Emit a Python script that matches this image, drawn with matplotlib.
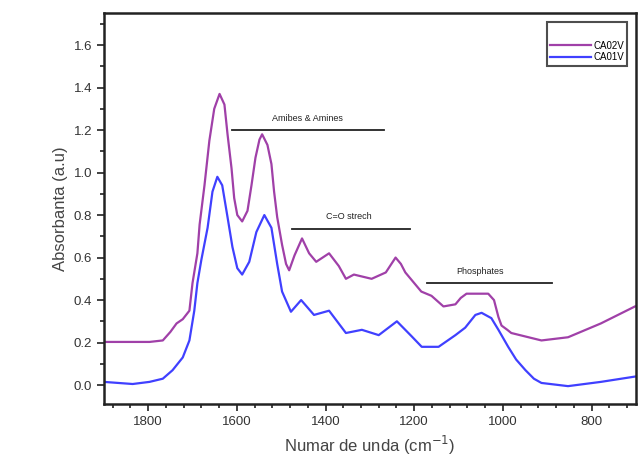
import matplotlib.pyplot as plt
from matplotlib.ticker import MultipleLocator

plt.rcParams['font.family'] = ['Liberation Sans', 'DejaVu Sans']

# CA02V (purple)
x_ca02 = [1900, 1797, 1767, 1750, 1736, 1722, 1707, 1700, 1689, 1684, 1673, 1662, 1651,
          1639, 1628, 1621, 1612, 1606, 1599, 1588, 1576, 1567, 1558, 1549, 1543, 1531,
          1522, 1516, 1509, 1498, 1489, 1482, 1470, 1453, 1437, 1421, 1392, 1370, 1354,
          1336, 1296, 1264, 1242, 1230, 1220, 1200, 1184, 1161, 1134, 1107, 1095, 1082,
          1033, 1020, 1010, 1003, 990, 981, 913, 853, 779, 702]
y_ca02 = [0.203, 0.203, 0.21, 0.25, 0.29, 0.31, 0.35, 0.48, 0.62, 0.755, 0.94, 1.15, 1.30,
          1.37, 1.32, 1.18, 1.02, 0.88, 0.80, 0.77, 0.82, 0.94, 1.07, 1.155, 1.18, 1.13,
          1.04, 0.91, 0.79, 0.66, 0.57, 0.54, 0.61, 0.69, 0.62, 0.58, 0.62, 0.56, 0.50,
          0.52, 0.50, 0.53, 0.60, 0.57, 0.53, 0.48, 0.44, 0.42, 0.37, 0.38, 0.41, 0.43,
          0.43, 0.40, 0.32, 0.28, 0.26, 0.245, 0.21, 0.225, 0.29, 0.37]

# CA01V (blue)
x_ca01 = [1900, 1835, 1797, 1767, 1745, 1722, 1707, 1696, 1689, 1680, 1666, 1655, 1644,
          1633, 1621, 1610, 1599, 1588, 1572, 1556, 1538, 1522, 1509, 1498, 1478, 1455,
          1426, 1392, 1354, 1318, 1280, 1239, 1206, 1183, 1145, 1107, 1085, 1062, 1048,
          1026, 1010, 988, 970, 949, 930, 913, 853, 779, 702]
y_ca01 = [0.015, 0.005, 0.015, 0.03, 0.07, 0.13, 0.21, 0.35, 0.48, 0.59, 0.74, 0.91, 0.98,
          0.94, 0.79, 0.65, 0.55, 0.52, 0.58, 0.72, 0.80, 0.74, 0.57, 0.44, 0.345, 0.40,
          0.33, 0.35, 0.245, 0.26, 0.235, 0.30, 0.23, 0.18, 0.18, 0.235, 0.27, 0.33, 0.34,
          0.315, 0.26, 0.18, 0.12, 0.07, 0.03, 0.01, -0.005, 0.015, 0.04]

# band annotations: label, x start, x end, line y, text x, text y
bands = [
    ('Amibes & Amines', 1610, 1269, 1.20, 1440, 1.235),
    ('C=O strech', 1475, 1210, 0.736, 1347, 0.77),
    ('Phosphates', 1170, 889, 0.48, 1051, 0.515),
]

fig = plt.figure(figsize=(6.41, 4.70), dpi=100)
ax = fig.add_axes([0.162, 0.140, 0.830, 0.832])

ax.plot(x_ca02, y_ca02, color='#a040a8', lw=1.6, label='CA02V')
ax.plot(x_ca01, y_ca01, color='#4040ff', lw=1.6, label='CA01V')

for name, xa, xb, yl, xt, yt in bands:
    ax.plot([xa, xb], [yl, yl], color='#222222', lw=1.3)
    ax.text(xt, yt, name, fontsize=6.5, ha='center', va='bottom', color='#222222')

ax.set_xlim(1900, 700)
ax.set_ylim(-0.09, 1.75)
ax.xaxis.set_major_locator(MultipleLocator(200))
ax.xaxis.set_minor_locator(MultipleLocator(40))
ax.yaxis.set_minor_locator(MultipleLocator(0.1))
ax.set_yticks([v / 10 for v in range(0, 17, 2)])
ax.yaxis.set_major_formatter(plt.FuncFormatter(lambda v, p: f'{v:.1f}'))
ax.tick_params(which='both', direction='out', width=1.3, colors='#333333', labelsize=9.5)
ax.tick_params(which='major', length=5)
ax.tick_params(which='minor', length=3)
for s in ax.spines.values():
    s.set_linewidth(1.8)
    s.set_color('#222222')

ax.set_xlabel('Numar de unda (cm$^{-1}$)', fontsize=12, color='#444444')
ax.set_ylabel('Absorbanta (a.u)', fontsize=12, color='#444444')

leg = ax.legend(loc='upper right', fontsize=7, frameon=True, fancybox=False,
                handlelength=4.2, handletextpad=0.2, borderpad=0.35, labelspacing=0.15,
                title=' ', title_fontsize=11, bbox_to_anchor=(0.993, 0.99))
leg.get_frame().set_edgecolor('#222222')
leg.get_frame().set_linewidth(1.5)

fig.savefig('out.png', dpi=100)
